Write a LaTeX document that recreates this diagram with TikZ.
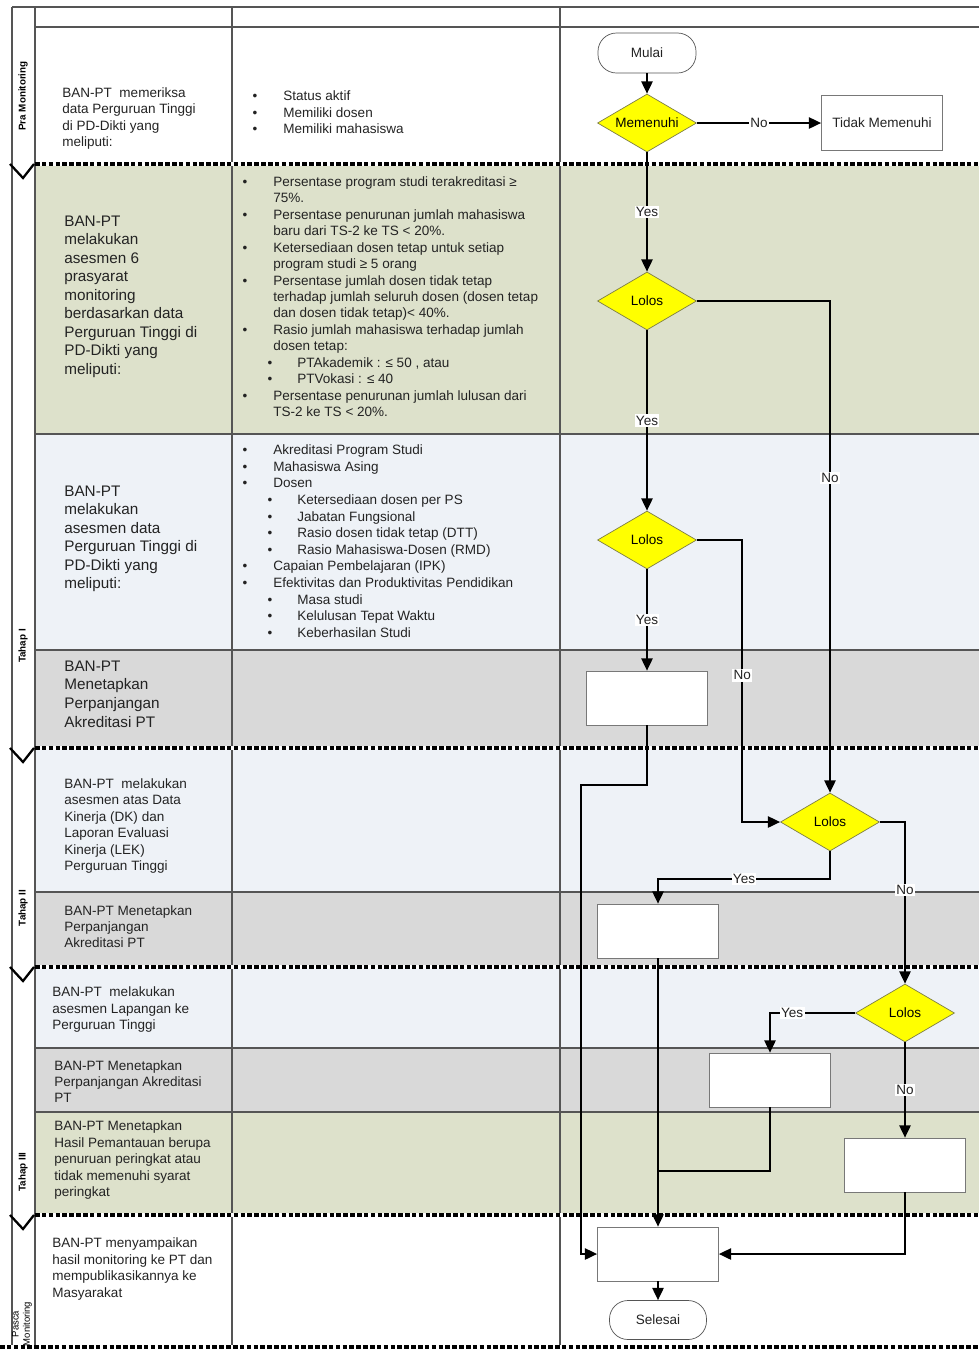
\documentclass[tikz,border=0pt]{standalone}
\usepackage{fontspec}
\setmainfont{Liberation Sans}
\usetikzlibrary{arrows.meta,shapes.geometric,calc}
\pgfmathsetmacro{\flowunit}{0.02cm}

\definecolor{rowgreen}{RGB}{221,225,203}
\definecolor{rowblue}{RGB}{238,242,247}
\definecolor{rowgray}{RGB}{217,217,217}
\definecolor{decyellow}{RGB}{255,255,0}
\definecolor{decedge}{RGB}{125,125,70}
\definecolor{laneedge}{RGB}{85,85,85}
\definecolor{boxedge}{RGB}{120,120,120}
\definecolor{txtgray}{RGB}{35,35,35}

\tikzset{
    smalltext/.style={font=\fontsize{7.7}{9.3}\selectfont, text=txtgray, inner sep=0pt, anchor=base west},
    largetext/.style={font=\fontsize{8.7}{10.5}\selectfont, text=txtgray, inner sep=0pt, anchor=base west},
    bulletmark/.style={font=\fontsize{7.7}{9.3}\selectfont, text=txtgray, inner sep=0pt, anchor=base},
    phaselabel/.style={rotate=90, font=\bfseries\fontsize{5.6}{6.5}\selectfont, inner sep=0pt},
    laneline/.style={draw=laneedge, line width=0.6pt},
    phasesep/.style={line width=1.8pt, dash pattern=on 2.6pt off 1.3pt},
    chevron/.style={line width=1.3pt, line join=miter},
    terminal/.style={rectangle, rounded corners=10.5pt, draw=laneedge, fill=white,
        minimum width=98*\flowunit, minimum height=40*\flowunit, inner sep=0pt,
        font=\fontsize{7.7}{9}\selectfont, text=txtgray},
    decision/.style={diamond, aspect=1.7, draw=decedge, fill=decyellow, inner sep=0pt,
        minimum width=99*\flowunit, minimum height=58*\flowunit,
        font=\fontsize{7.7}{9}\selectfont},
    process/.style={rectangle, draw=boxedge, fill=white, inner sep=0pt,
        minimum width=121*\flowunit, minimum height=54*\flowunit,
        font=\fontsize{7.7}{9}\selectfont, text=txtgray},
    link/.style={draw=black, line width=1.1pt},
    flow/.style={link, -{Triangle[length=7pt,width=6.4pt]}},
    yn/.style={fill=white, inner sep=0.8pt, font=\fontsize{7.7}{9}\selectfont, text=txtgray}
}

% lines of a lane text: name, style, x, first baseline, line step, lines
\newcommand{\lanetext}[6]{%
    \foreach \txt [count=\i from 0] in {#6}
        \node[#2] (#1-\i) at (#3, #4+#5*\i) {\txt};}
% bullet list: name, x of bullet, x of text, first baseline, line step, level/line
\newcommand{\critlist}[6]{%
    \foreach \lvl/\txt [count=\i from 0] in {#6} {
        \pgfmathsetmacro{\bx}{\lvl==2 ? #2+25 : #2}
        \pgfmathsetmacro{\tx}{\lvl==2 ? #3+24 : #3}
        \node[smalltext] (#1-\i) at (\tx, #4+#5*\i) {\txt};
        \ifnum\lvl>0 \node[bulletmark] (#1b-\i) at (\bx, #4+#5*\i) {•}; \fi
    }}

\begin{document}
\begin{tikzpicture}[x=0.02cm, y=-0.02cm]
\useasboundingbox (0,0) rectangle (979,1350);
% row backgrounds
\foreach \ytop/\ybot/\rowcol in {164/434/rowgreen, 434/650/rowblue, 650/748/rowgray,
        748/892/rowblue, 892/967/rowgray, 967/1048/rowblue, 1048/1112/rowgray, 1112/1215/rowgreen}
    \fill[\rowcol] (35,\ytop) rectangle (979,\ybot);
% lane lines
\draw[laneline] (12,7) -- (979,7);
\foreach \y in {27,434,650,892,1048,1112}
    \draw[laneline] (35,\y) -- (979,\y);
\foreach \x in {12,35,232,560}
    \draw[laneline] (\x,7) -- (\x,1347);
% phase separators
\foreach \y in {164,748,967,1215} {
    \draw[white, line width=1.8pt] (35,\y) -- (979,\y);
    \draw[phasesep] (35,\y) -- (979,\y);
    \draw[chevron] (10,\y) -- (23,\y+14) -- (34,\y);
}
\draw[white, line width=1.8pt] (0,1347) -- (979,1347);
\draw[phasesep] (0,1347) -- (979,1347);
% phase labels
\node[phaselabel] (praLabel) at (23,96) {Pra Monitoring};
\node[phaselabel] (tahapOneLabel) at (23,646) {Tahap I};
\node[phaselabel] (tahapTwoLabel) at (23,908) {Tahap II};
\node[phaselabel] (tahapThreeLabel) at (23,1172) {Tahap III};
\node[phaselabel, font=\fontsize{5.4}{6.4}\selectfont, align=center] (pascaLabel) at (22,1324) {Pasca\\Monitoring};

% lane texts
\lanetext{praTxt}{smalltext}{62}{97}{16.5}{BAN-PT\ \ memeriksa, data Perguruan Tinggi, di PD-Dikti yang, meliputi:}
\critlist{praCrit}{255}{283}{100.5}{16.5}{1/Status aktif, 1/Memiliki dosen, 1/Memiliki mahasiswa}
\lanetext{asesA}{largetext}{64}{226}{18.5}{BAN-PT, melakukan, asesmen 6, prasyarat, monitoring,
    berdasarkan data, Perguruan Tinggi di, PD-Dikti yang, meliputi:}
\critlist{critA}{245}{273}{186.5}{16.43}{
    1/Persentase program studi terakreditasi ≥,
    0/75\%.,
    1/Persentase penurunan jumlah mahasiswa,
    0/baru dari TS-2 ke TS < 20\%.,
    1/Ketersediaan dosen tetap untuk setiap,
    0/program studi ≥ 5 orang,
    1/Persentase jumlah dosen tidak tetap,
    0/terhadap jumlah seluruh dosen (dosen tetap,
    0/dan dosen tidak tetap)< 40\%.,
    1/Rasio jumlah mahasiswa terhadap jumlah,
    0/dosen tetap:,
    2/{PTAkademik : ≤ 50 , atau},
    2/PTVokasi : ≤ 40,
    1/Persentase penurunan jumlah lulusan dari,
    0/TS-2 ke TS < 20\%.}
\lanetext{asesB}{largetext}{64}{496}{18.5}{BAN-PT, melakukan, asesmen data, Perguruan Tinggi di,
    PD-Dikti yang, meliputi:}
\critlist{critB}{245}{273}{454.5}{16.64}{
    1/Akreditasi Program Studi,
    1/Mahasiswa Asing,
    1/Dosen,
    2/Ketersediaan dosen per PS,
    2/Jabatan Fungsional,
    2/Rasio dosen tidak tetap (DTT),
    2/Rasio Mahasiswa-Dosen (RMD),
    1/Capaian Pembelajaran (IPK),
    1/Efektivitas dan Produktivitas Pendidikan,
    2/Masa studi,
    2/Kelulusan Tepat Waktu,
    2/Keberhasilan Studi}
\lanetext{tetapC}{largetext}{64}{671}{18.7}{BAN-PT, Menetapkan, Perpanjangan, Akreditasi PT}
\lanetext{asesD}{smalltext}{64}{788.5}{16.4}{BAN-PT\ \ melakukan, asesmen atas Data, Kinerja (DK) dan,
    Laporan Evaluasi, Kinerja (LEK), Perguruan Tinggi}
\lanetext{tetapE}{smalltext}{64}{915.5}{16}{BAN-PT Menetapkan, Perpanjangan, Akreditasi PT}
\lanetext{asesF}{smalltext}{52}{996.5}{16.5}{BAN-PT\ \ melakukan, asesmen Lapangan ke, Perguruan Tinggi}
\lanetext{tetapG}{smalltext}{54}{1070.5}{16}{BAN-PT Menetapkan, Perpanjangan Akreditasi, PT}
\lanetext{hasilH}{smalltext}{54}{1130.5}{16.5}{BAN-PT Menetapkan, Hasil Pemantauan berupa,
    penuruan peringkat atau, tidak memenuhi syarat, peringkat}
\lanetext{pascaTxt}{smalltext}{52}{1247.5}{16.7}{BAN-PT menyampaikan, hasil monitoring ke PT dan,
    mempublikasikannya ke, Masyarakat}

% flowchart nodes
\node[terminal] (mulai) at (647,53) {Mulai};
\node[decision] (memenuhi) at (647,123) {Memenuhi};
\node[process, minimum height=55*\flowunit] (tidak) at (882,123) {Tidak Memenuhi};
\node[decision] (lolosA) at (647,301) {Lolos};
\node[decision] (lolosB) at (647,540) {Lolos};
\node[process] (tetapI) at (647,698) {};
\node[decision] (lolosC) at (830,822) {Lolos};
\node[process] (tetapII) at (658,931) {};
\node[decision] (lolosD) at (905,1013) {Lolos};
\node[process] (tetapIII) at (770,1080) {};
\node[process] (hasilIII) at (905,1165) {};
\node[process] (kirim) at (658,1254) {};
\node[terminal, minimum width=97*\flowunit, minimum height=39*\flowunit] (selesai) at (658,1320) {Selesai};
% bend points
\coordinate (noB) at ($(lolosC.west)+(-38,0)$);
\coordinate (backL) at (581,785);
\coordinate (joinIII) at (658,1171);

% connectors
\draw[flow] (mulai) -- (memenuhi);
\draw[flow] (memenuhi) -- node[yn] {No} (tidak);
\draw[flow] (memenuhi) -- node[yn] {Yes} (lolosA);
\draw[flow] (lolosA) -- node[yn] {Yes} (lolosB);
\draw[flow] (lolosA.east) -| node[yn, pos=0.68] {No} (lolosC.north);
\draw[flow] (lolosB) -- node[yn] {Yes} (tetapI);
\draw[flow] (lolosB.east) -| node[yn, pos=0.74] {No} (noB) -- (lolosC.west);
\draw[flow] (tetapI.south) |- (backL) |- (kirim.west);
\draw[flow] (lolosC.south) -- ++(0,28) -| node[yn, pos=0.25] {Yes} (tetapII.north);
\draw[flow] (lolosC.east) -| node[yn, pos=0.71] {No} (lolosD.north);
\draw[flow] (tetapII) -- (kirim);
\draw[flow] (lolosD.west) -| node[yn, pos=0.37] {Yes} (tetapIII.north);
\draw[link] (tetapIII.south) |- (joinIII);
\draw[flow] (lolosD) -- node[yn] {No} (hasilIII);
\draw[flow] (hasilIII.south) |- (kirim.east);
\draw[flow] (kirim) -- (selesai);
\end{tikzpicture}
\end{document}
